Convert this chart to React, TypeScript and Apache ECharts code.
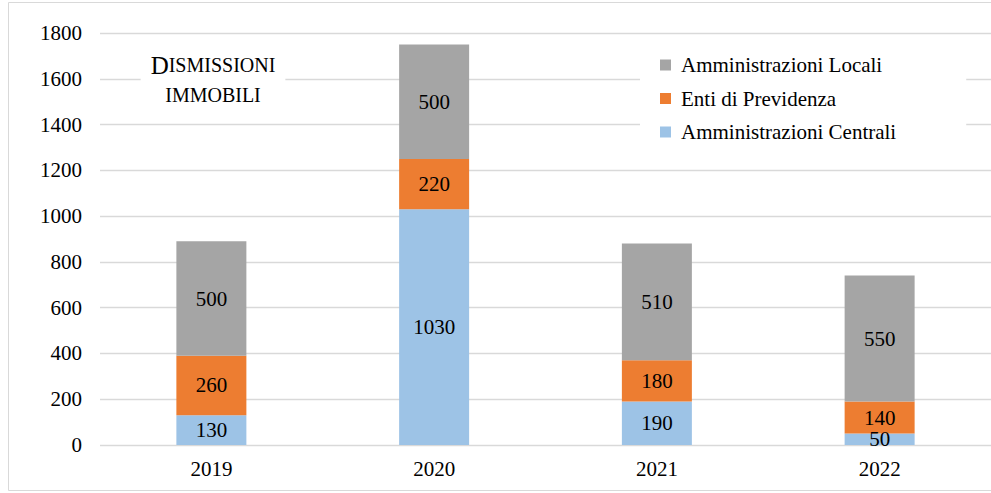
import React, { useEffect, useRef } from "react";
import * as echarts from "echarts";

const years = ["2019", "2020", "2021", "2022"];
const centrali = [130, 1030, 190, 50];
const previdenza = [260, 220, 180, 140];
const locali = [500, 500, 510, 550];
const yTicks = { min: 0, max: 1800, interval: 200 };

const FONT = "'Liberation Serif', 'Times New Roman', serif";

export default function App() {
  const ref = useRef<HTMLDivElement>(null);
  useEffect(() => {
    const chart = echarts.init(ref.current!, null, { renderer: "svg" });
    const label = {
      show: true,
      position: "inside",
      color: "#000",
      fontFamily: FONT,
      fontSize: 21,
    };
    chart.setOption({
      animation: false,
      backgroundColor: "#fff",
      textStyle: { fontFamily: FONT },
      grid: { left: 100, top: 33, width: 898, height: 412 },
      xAxis: {
        type: "category",
        data: years,
        axisLine: { show: false },
        axisTick: { show: false },
        axisLabel: { color: "#000", fontFamily: FONT, fontSize: 21, margin: 13 },
      },
      yAxis: {
        type: "value",
        min: yTicks.min,
        max: yTicks.max,
        interval: yTicks.interval,
        axisLine: { show: false },
        axisTick: { show: false },
        axisLabel: {
          color: "#000",
          fontFamily: FONT,
          fontSize: 21,
          margin: 18,
          formatter: (v: number) => String(v),
        },
        splitLine: { lineStyle: { color: "#D9D9D9", width: 1.3 } },
      },
      legend: {
        orient: "vertical",
        left: 640,
        top: 44,
        data: ["Amministrazioni Locali", "Enti di Previdenza", "Amministrazioni Centrali"],
        itemWidth: 11,
        itemHeight: 11,
        itemGap: 11.5,
        icon: "rect",
        backgroundColor: "#fff",
        padding: [10, 70, 10, 20],
        textStyle: {
          color: "#000",
          fontFamily: FONT,
          fontSize: 21,
          lineHeight: 22,
          padding: [0, 0, 0, 5],
        },
      },
      graphic: [
        {
          type: "rect",
          shape: { x: 8.5, y: 2.5, width: 1000, height: 488 },
          style: { fill: "none", stroke: "#D9D9D9", lineWidth: 1 },
          silent: true,
        },
        {
          type: "text",
          z: 10,
          style: {
            x: 213,
            y: 48,
            text: "{big|D}{small|ISMISSIONI}\n{small2|IMMOBILI}",
            align: "center",
            verticalAlign: "top",
            backgroundColor: "#fff",
            padding: [2, 10, 8, 10],
            rich: {
              big: { fontFamily: FONT, fontSize: 25, fill: "#000", lineHeight: 30 },
              small: { fontFamily: FONT, fontSize: 20, fill: "#000", lineHeight: 30 },
              small2: { fontFamily: FONT, fontSize: 20, fill: "#000", lineHeight: 30 },
            },
          },
        },
      ],
      series: [
        {
          name: "Amministrazioni Centrali",
          type: "bar",
          stack: "t",
          data: centrali,
          barWidth: 70,
          itemStyle: { color: "#9DC3E6" },
          label,
        },
        {
          name: "Enti di Previdenza",
          type: "bar",
          stack: "t",
          data: previdenza,
          barWidth: 70,
          itemStyle: { color: "#ED7D31" },
          label,
        },
        {
          name: "Amministrazioni Locali",
          type: "bar",
          stack: "t",
          data: locali,
          barWidth: 70,
          itemStyle: { color: "#A5A5A5" },
          label,
        },
      ],
    });
    return () => chart.dispose();
  }, []);
  return (
    <div
      ref={ref}
      style={{ position: "fixed", left: 0, top: 0, width: 991, height: 493 }}
    />
  );
}
